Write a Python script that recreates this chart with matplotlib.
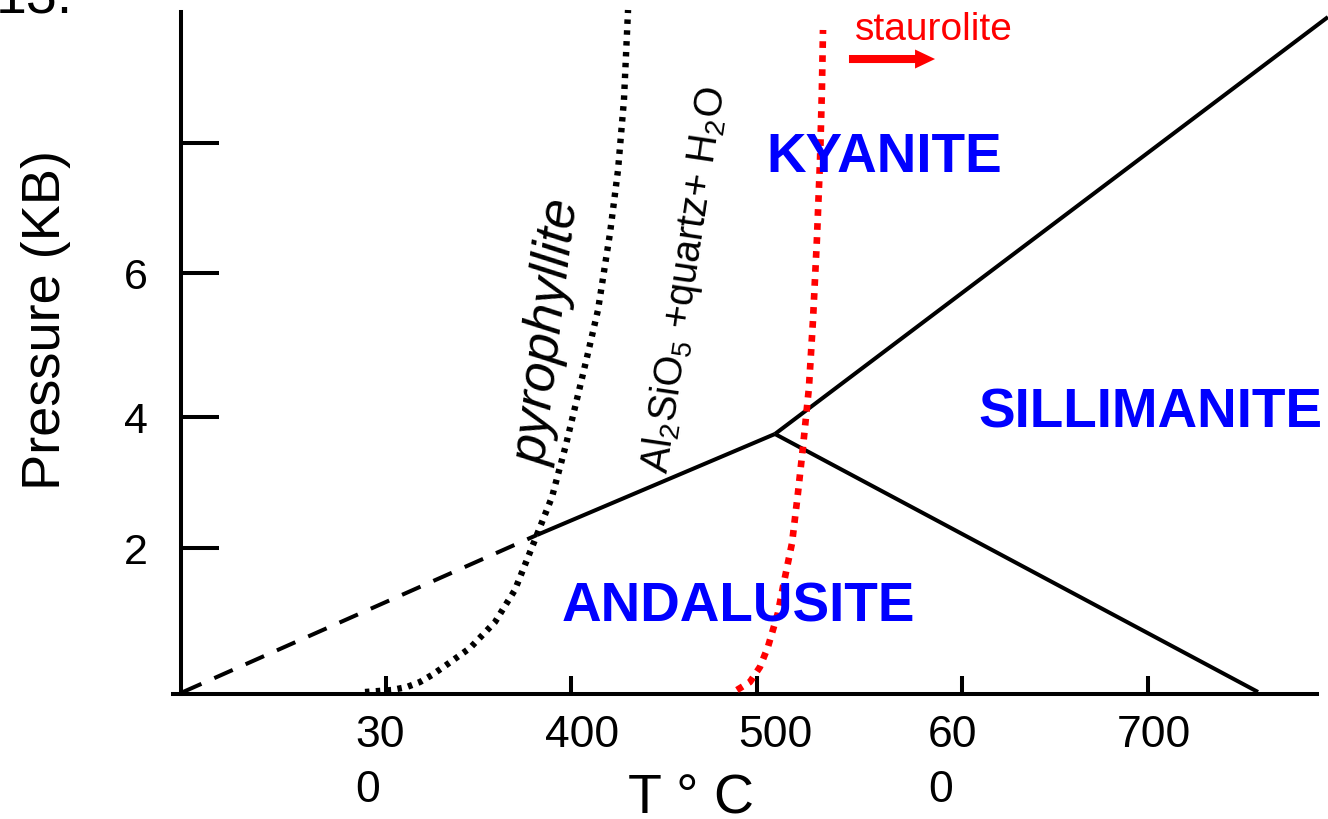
import matplotlib
matplotlib.use('Agg')
import matplotlib.pyplot as plt

plt.rcParams['font.family'] = ['Liberation Sans', 'DejaVu Sans']
plt.rcParams['mathtext.fontset'] = 'custom'
plt.rcParams['mathtext.rm'] = 'Liberation Sans'
plt.rcParams['mathtext.it'] = 'Liberation Sans:italic'
plt.rcParams['mathtext.bf'] = 'Liberation Sans:bold'

# ---------------- data (T in deg C, P in kbar) ----------------
pyro_T = [288.7, 303.2, 311.3, 318.3, 324.8, 331.8, 345.3, 358.8, 369.5, 379.2,
          389.5, 397.0, 403.5, 408.4, 414.3, 420.8, 425.1, 428.3, 430.5]
pyro_P = [0.029, 0.058, 0.102, 0.174, 0.276, 0.407, 0.668, 1.046, 1.511, 2.164,
          2.862, 3.617, 4.343, 4.895, 5.578, 6.697, 7.612, 8.629, 9.936]

stau_T = [489.2, 496.2, 501.6, 505.9, 511.3, 514.0, 518.9, 522.1, 524.8, 528.0,
          530.2, 532.3, 534.0, 535.0, 535.6]
stau_P = [0.058, 0.174, 0.392, 0.683, 1.177, 1.554, 2.193, 2.920, 3.588, 4.445,
          5.433, 6.595, 7.757, 8.774, 9.646]

dash_T = [190.6, 381.4]
dash_P = [0.029, 2.31]
and_ky_T = [381.4, 509.7]
and_ky_P = [2.31, 3.777]
ky_sil_T = [509.7, 807.8]
ky_sil_P = [3.777, 9.834]
and_sil_T = [509.7, 770.1]
and_sil_P = [3.777, 0.029]

arrow_T = [549.6, 596.0]
arrow_P = [9.224, 9.224]

xtick_pos = [300, 400, 500, 610.6, 710.8]
xtick_labels = ['30\n0', '400', '500', '60\n0', '700']
xlabel_left = [283.3, 385.7, 489.8, 592.2, 694.1]
ytick_pos = [2.12, 4.02, 6.11, 8.0]
ytick_labels = ['2', '4', '6', '']

# ---------------- figure ----------------
W, H = 1328, 819
fig = plt.figure(figsize=(W / 100, H / 100), dpi=100)
fig.patch.set_facecolor('white')

def fx(px):
    return px / W

def fy(py):
    return 1 - py / H

ax = fig.add_axes([fx(173), fy(694), (1317 - 173) / W, (694 - 12) / H])
ax.set_xlim(185.2, 801.9)
ax.set_ylim(0, 9.907)
ax.patch.set_alpha(0)
px_per_P = 682 / 9.907

for s in ['top', 'right']:
    ax.spines[s].set_visible(False)
ax.spines['left'].set_position(('data', 189.5))
ax.spines['left'].set_bounds(0, 9.907)
ax.spines['left'].set_linewidth(2.9)
ax.spines['bottom'].set_linewidth(2.9)

ax.set_xticks(xtick_pos)
ax.set_xticklabels([])
ax.tick_params(axis='x', direction='in', length=13, width=2.9, labelbottom=False)
ax.set_yticks(ytick_pos)
ax.set_yticklabels(ytick_labels)
ax.tick_params(axis='y', direction='in', length=27, width=2.9, labelsize=31, pad=24)

# x tick labels (hand placed, wrapped like the original)
base_P = -53 / px_per_P
pitch_P = 55 / px_per_P
for xl, lab in zip(xlabel_left, xtick_labels):
    for i, line in enumerate(lab.split('\n')):
        ax.text(xl, base_P - i * pitch_P, line, ha='left', va='baseline',
                fontsize=32, clip_on=False)

# phase boundaries
lw = 2.9
ax.plot(dash_T, dash_P, color='k', lw=lw, linestyle=(0, (5, 3.5)),
        dash_capstyle='butt', clip_on=False, zorder=2)
ax.plot(and_ky_T, and_ky_P, color='k', lw=lw, clip_on=False, zorder=2,
        solid_capstyle='butt')
ax.plot(ky_sil_T, ky_sil_P, color='k', lw=lw, clip_on=False, zorder=2,
        solid_capstyle='butt')
ax.plot(and_sil_T, and_sil_P, color='k', lw=lw, clip_on=False, zorder=2,
        solid_capstyle='butt')

ax.plot(pyro_T, pyro_P, color='k', lw=4.6, linestyle=(0, (0.7, 1.0)),
        dash_capstyle='butt', clip_on=False, zorder=2)
ax.plot(stau_T, stau_P, color='#ff0000', lw=4.8, linestyle=(0, (1.0, 1.1)),
        dash_capstyle='butt', clip_on=False, zorder=5)

ax.annotate('', xy=(arrow_T[1], arrow_P[1]), xytext=(arrow_T[0], arrow_P[0]),
            arrowprops=dict(arrowstyle='simple,head_length=1.44,head_width=1.37,tail_width=0.58',
                            mutation_scale=10, color='#ff0000', lw=0,
                            shrinkA=0, shrinkB=0),
            annotation_clip=False)

# texts
fig.text(fx(-4), fy(14), '13.', fontsize=40, ha='left', va='baseline')
fig.text(fx(46), fy(320), 'Pressure (KB)', rotation=90, ha='center', va='center',
         fontsize=39)
fig.text(fx(628), fy(813), 'T ° C', fontsize=40, ha='left', va='baseline')

blue = '#0000ff'
fig.text(fx(884), fy(172), 'KYANITE', ha='center', va='baseline', fontsize=39.5,
         weight='bold', color=blue, zorder=3)
fig.text(fx(1150), fy(428), 'SILLIMANITE', ha='center', va='baseline', fontsize=39.5,
         weight='bold', color=blue, zorder=3)
fig.text(fx(738), fy(622), 'ANDALUSITE', ha='center', va='baseline', fontsize=39.5,
         weight='bold', color=blue, zorder=3)

fig.text(fx(548), fy(332), 'pyrophyllite', rotation=83, rotation_mode='anchor',
         ha='center', va='center', style='italic', fontsize=38)
fig.text(fx(685), fy(280), r'Al$_2$SiO$_5$ +quartz+ H$_2$O', rotation=81.5,
         rotation_mode='anchor', ha='center', va='center', fontsize=28.5)

fig.text(fx(855), fy(40), 'staurolite', color='#ff0000', fontsize=28,
         ha='left', va='baseline')

fig.savefig('out.png', dpi=100, facecolor='white')
